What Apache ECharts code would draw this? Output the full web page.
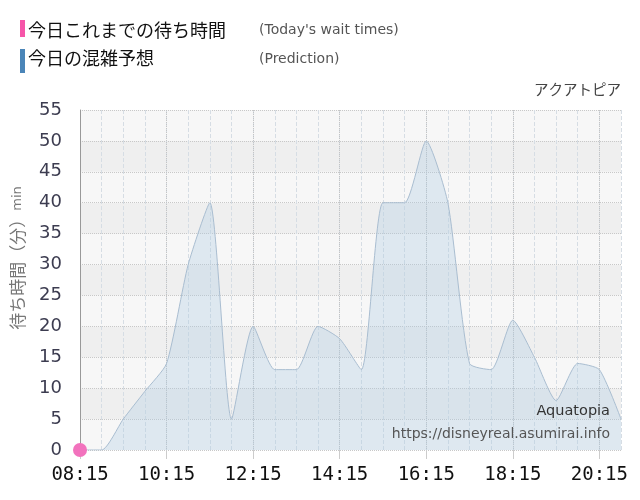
<!DOCTYPE html>
<html>
<head>
    <meta charset="UTF-8">
    <title>アクアトピア 待ち時間</title>
    <style>
        body, html {
            margin: 0;
            width: 100%;
            height: 100%;
            background: #fff;
        }
        #container {
            width: 640px;
            height: 500px;
        }
    </style>
</head>
<body>
<div id="container"></div>

<script src="https://cdn.jsdelivr.net/npm/echarts@6/dist/echarts.min.js"></script>
<script>
    // 30分ごとの時刻
    var times = ['08:15', '08:45', '09:15', '09:45', '10:15', '10:45', '11:15', '11:45',
        '12:15', '12:45', '13:15', '13:45', '14:15', '14:45', '15:15', '15:45',
        '16:15', '16:45', '17:15', '17:45', '18:15', '18:45', '19:15', '19:45',
        '20:15', '20:45'];
    // 今日の混雑予想
    var prediction = [0, 0, 5, 9.5, 14, 30, 40, 5, 20, 13, 13, 20, 18, 13, 40, 40,
        50, 40, 14, 13, 21, 15, 8, 14, 13, 5];
    // 今日これまでの待ち時間
    var actual = [0];
    var yTicks = [0, 5, 10, 15, 20, 25, 30, 35, 40, 45, 50, 55];

    var chart = echarts.init(document.getElementById('container'));

    var option = {
        animation: false,
        grid: {left: 80, right: 19, top: 110, bottom: 50, outerBoundsMode: 'none', containLabel: false},
        graphic: [
            {type: 'rect', left: 20, top: 20, shape: {width: 5, height: 17}, style: {fill: '#f655a9'}},
            {type: 'text', left: 28, top: 21, style: {text: '今日これまでの待ち時間', fill: '#111', font: '18px "Noto Sans CJK JP"'}},
            {type: 'text', left: 259, top: 23, style: {text: "(Today's wait times)", fill: '#555', font: '14px "DejaVu Sans"'}},
            {type: 'rect', left: 20, top: 49, shape: {width: 5, height: 24}, style: {fill: '#4a85b8'}},
            {type: 'text', left: 28, top: 49, style: {text: '今日の混雑予想', fill: '#111', font: '18px "Noto Sans CJK JP"'}},
            {type: 'text', left: 259, top: 52, style: {text: '(Prediction)', fill: '#555', font: '14px "DejaVu Sans"'}},
            {type: 'text', right: 19, top: 82, style: {text: 'アクアトピア', fill: '#444', font: '14.5px "Noto Sans CJK JP"'}},
            {type: 'text', right: 30, top: 404, z: 10, style: {text: 'Aquatopia', fill: '#333', font: '14.5px "DejaVu Sans"'}},
            {type: 'text', right: 30, top: 427, z: 10, style: {text: 'https://disneyreal.asumirai.info', fill: '#555', font: '14px "DejaVu Sans"'}}
        ],
        xAxis: [{
            type: 'category',
            boundaryGap: false,
            data: times,
            axisLine: {show: false},
            axisTick: {show: true, interval: 3, length: 9, lineStyle: {color: '#ccc'}},
            axisLabel: {
                interval: 3,
                margin: 16,
                color: '#111',
                fontSize: 19,
                fontFamily: 'DejaVu Sans Mono'
            },
            splitLine: {show: true, interval: 0, lineStyle: {color: '#d6dde4', type: 'dashed'}}
        }, {
            type: 'category',
            boundaryGap: false,
            data: times,
            position: 'bottom',
            axisLine: {show: false},
            axisTick: {show: false},
            axisLabel: {show: false},
            splitLine: {show: true, interval: 3, lineStyle: {color: '#c4c4c4', type: 'dotted'}}
        }],
        yAxis: {
            type: 'value',
            min: yTicks[0],
            max: yTicks[yTicks.length - 1],
            interval: 5,
            name: '{a|待ち時間（分）}{b|min}',
            nameLocation: 'middle',
            nameRotate: 90,
            nameGap: 54,
            nameTextStyle: {
                padding: [0, 0, 0, 44],
                rich: {
                    a: {fontSize: 17, color: '#777', fontFamily: 'Noto Sans CJK JP'},
                    b: {fontSize: 13, color: '#777', fontFamily: 'DejaVu Sans'}
                }
            },
            axisLine: {show: true, lineStyle: {color: '#999'}},
            axisTick: {show: false},
            axisLabel: {margin: 18, color: '#3c3c50', fontSize: 18, fontFamily: 'DejaVu Sans'},
            splitLine: {show: true, lineStyle: {color: '#c8c8c8', type: 'dotted'}},
            splitArea: {show: true, areaStyle: {color: ['#f7f7f7', '#efefef']}}
        },
        series: [{
            name: '今日の混雑予想',
            type: 'line',
            data: prediction,
            smooth: 0.2,
            showSymbol: false,
            lineStyle: {color: '#a9bdd0', width: 1},
            areaStyle: {color: 'rgba(170,200,228,0.45)'},
            z: 2
        }, {
            name: '今日これまでの待ち時間',
            type: 'line',
            data: actual,
            symbol: 'circle',
            symbolSize: 14,
            itemStyle: {color: '#f272bd'},
            lineStyle: {color: '#f272bd'},
            z: 5
        }]
    };

    chart.setOption(option);
</script>
</body>
</html>
